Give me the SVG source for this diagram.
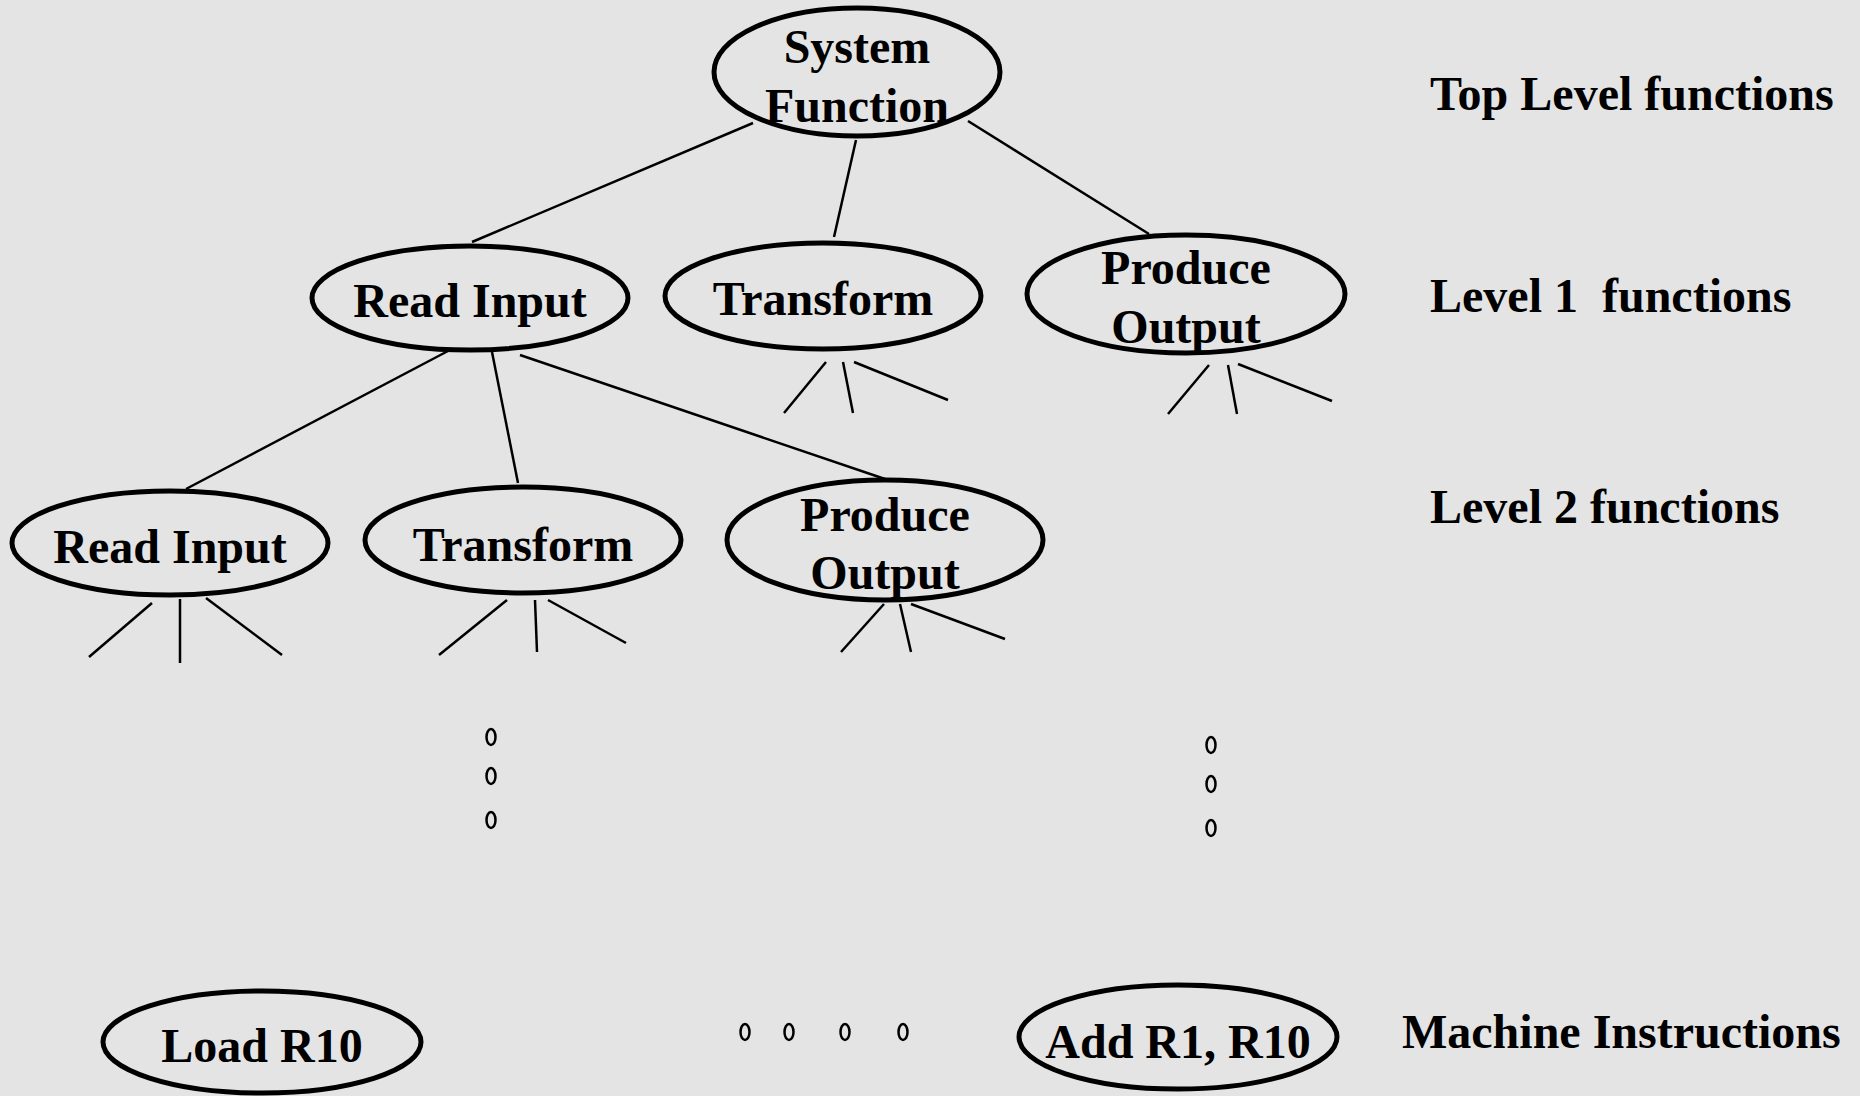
<svg xmlns="http://www.w3.org/2000/svg" width="1860" height="1096" viewBox="0 0 1860 1096">
<style>
.bg{fill:#e4e4e4}
.node ellipse{fill:none;stroke:#000;stroke-width:5}
.t{font-family:"Liberation Serif","Times New Roman",serif;font-weight:bold;font-size:48px;fill:#000}
.c{text-anchor:middle}
.conn line{stroke:#000;stroke-width:2.5;stroke-linecap:butt}
.dot{fill:none;stroke:#000;stroke-width:2.5}
</style>
<rect class="bg" x="0" y="0" width="1860" height="1096"/>
<g id="connectors" class="conn">
<line x1="753" y1="123" x2="472" y2="242"/>
<line x1="856" y1="140" x2="834" y2="237"/>
<line x1="968" y1="121" x2="1149" y2="234"/>
<line x1="448" y1="351" x2="186" y2="489"/>
<line x1="492" y1="352" x2="518" y2="483"/>
<line x1="520" y1="355" x2="885" y2="479"/>
<line x1="826" y1="362" x2="784" y2="413"/>
<line x1="843" y1="362" x2="853" y2="413"/>
<line x1="854" y1="362" x2="948" y2="400"/>
<line x1="1209" y1="365" x2="1168" y2="414"/>
<line x1="1228" y1="365" x2="1237" y2="414"/>
<line x1="1238" y1="364" x2="1332" y2="401"/>
<line x1="152" y1="603" x2="89" y2="657"/>
<line x1="180" y1="599" x2="180" y2="663"/>
<line x1="206" y1="598" x2="282" y2="655"/>
<line x1="507" y1="600" x2="439" y2="655"/>
<line x1="535" y1="600" x2="537" y2="652"/>
<line x1="548" y1="600" x2="626" y2="643"/>
<line x1="884" y1="604" x2="841" y2="652"/>
<line x1="900" y1="604" x2="911" y2="652"/>
<line x1="911" y1="604" x2="1005" y2="639"/>
</g>
<g id="system-function" class="node">
<ellipse cx="857" cy="72" rx="143" ry="64"/>
<text class="t c" x="857" y="63">System</text>
<text class="t c" x="857" y="122">Function</text>
</g>
<g id="l1-read-input" class="node">
<ellipse cx="470" cy="298" rx="158" ry="52"/>
<text class="t c" x="470" y="317">Read Input</text>
</g>
<g id="l1-transform" class="node">
<ellipse cx="823" cy="296" rx="158" ry="53"/>
<text class="t c" x="823" y="315">Transform</text>
</g>
<g id="l1-produce-output" class="node">
<ellipse cx="1186" cy="294" rx="159" ry="59"/>
<text class="t c" x="1186" y="284">Produce</text>
<text class="t c" x="1186" y="343">Output</text>
</g>
<g id="l2-read-input" class="node">
<ellipse cx="170" cy="543" rx="158" ry="52"/>
<text class="t c" x="170" y="563">Read Input</text>
</g>
<g id="l2-transform" class="node">
<ellipse cx="523" cy="540" rx="158" ry="53"/>
<text class="t c" x="523" y="561">Transform</text>
</g>
<g id="l2-produce-output" class="node">
<ellipse cx="885" cy="540" rx="158" ry="60"/>
<text class="t c" x="885" y="531">Produce</text>
<text class="t c" x="885" y="589">Output</text>
</g>
<g id="load-r10" class="node">
<ellipse cx="262" cy="1042" rx="159" ry="51"/>
<text class="t c" x="262" y="1062">Load R10</text>
</g>
<g id="add-r1-r10" class="node">
<ellipse cx="1178" cy="1037" rx="159" ry="52"/>
<text class="t c" x="1178" y="1058">Add R1, R10</text>
</g>
<g id="ellipsis-dots">
<ellipse class="dot" cx="491" cy="737" rx="4.5" ry="8"/>
<ellipse class="dot" cx="491" cy="776" rx="4.5" ry="8"/>
<ellipse class="dot" cx="491" cy="820" rx="4.5" ry="8"/>
<ellipse class="dot" cx="1211" cy="745" rx="4.5" ry="8"/>
<ellipse class="dot" cx="1211" cy="784" rx="4.5" ry="8"/>
<ellipse class="dot" cx="1211" cy="828" rx="4.5" ry="8"/>
<ellipse class="dot" cx="745" cy="1032" rx="4.5" ry="8"/>
<ellipse class="dot" cx="789" cy="1032" rx="4.5" ry="8"/>
<ellipse class="dot" cx="845" cy="1032" rx="4.5" ry="8"/>
<ellipse class="dot" cx="903" cy="1032" rx="4.5" ry="8"/>
</g>
<g id="level-labels">
<text class="t" x="1430" y="110">Top Level functions</text>
<text class="t" x="1430" y="312" xml:space="preserve">Level 1  functions</text>
<text class="t" x="1430" y="523">Level 2 functions</text>
<text class="t" x="1402" y="1048">Machine Instructions</text>
</g>
</svg>
